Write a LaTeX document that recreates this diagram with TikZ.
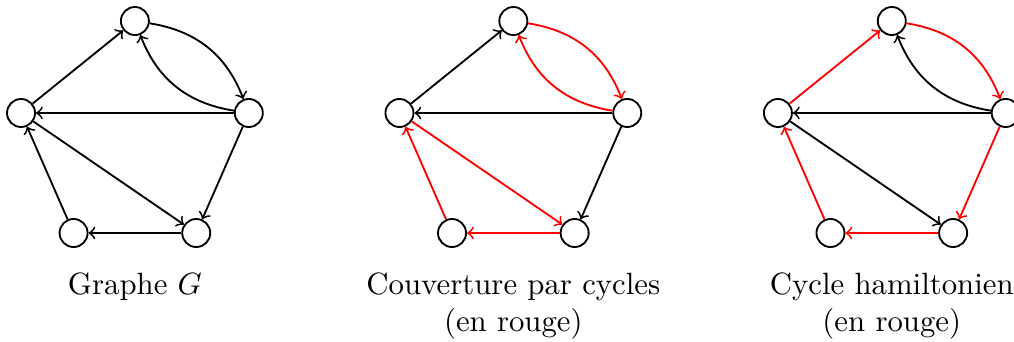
\documentclass[tikz,border=0pt]{standalone}
\begin{document}
\begin{tikzpicture}[semithick, >=to]
  \tikzstyle{s} = [draw, shape=circle, anchor=center, minimum size=.32cm, inner sep=0pt]
  \tikzstyle{legende} = [anchor=north, align=center]
  \useasboundingbox (0,0) rectangle (11.575,-3.904);

  % Graphe G
  \node[s] (h1) at (1.54,-0.24) {};
  \node[s] (g1) at (0.24,-1.29) {};
  \node[s] (d1) at (2.84,-1.29) {};
  \node[s] (bg1) at (0.84,-2.66) {};
  \node[s] (bd1) at (2.24,-2.66) {};
  \node[legende] (l1) at (1.54,-2.985) {Graphe $G$};

  \draw[->] (g1) -- (h1);
  \draw[->] (h1) to[bend left=30] (d1);
  \draw[->] (d1) to[bend left=30] (h1);
  \draw[->] (d1) -- (g1);
  \draw[->] (d1) -- (bd1);
  \draw[->] (g1) -- (bd1);
  \draw[->] (bd1) -- (bg1);
  \draw[->] (bg1) -- (g1);

  % Couverture par cycles
  \node[s] (h2) at (5.86,-0.24) {};
  \node[s] (g2) at (4.56,-1.29) {};
  \node[s] (d2) at (7.16,-1.29) {};
  \node[s] (bg2) at (5.16,-2.66) {};
  \node[s] (bd2) at (6.56,-2.66) {};
  \node[legende] (l2) at (5.86,-2.985) {Couverture par cycles\\(en rouge)};

  \draw[->] (g2) -- (h2);
  \draw[->, red] (h2) to[bend left=30] (d2);
  \draw[->, red] (d2) to[bend left=30] (h2);
  \draw[->] (d2) -- (g2);
  \draw[->] (d2) -- (bd2);
  \draw[->, red] (g2) -- (bd2);
  \draw[->, red] (bd2) -- (bg2);
  \draw[->, red] (bg2) -- (g2);

  % Cycle hamiltonien
  \node[s] (h3) at (10.18,-0.24) {};
  \node[s] (g3) at (8.88,-1.29) {};
  \node[s] (d3) at (11.48,-1.29) {};
  \node[s] (bg3) at (9.48,-2.66) {};
  \node[s] (bd3) at (10.88,-2.66) {};
  \node[legende] (l3) at (10.18,-2.985) {Cycle hamiltonien\\(en rouge)};

  \draw[->, red] (g3) -- (h3);
  \draw[->, red] (h3) to[bend left=30] (d3);
  \draw[->] (d3) to[bend left=30] (h3);
  \draw[->] (d3) -- (g3);
  \draw[->, red] (d3) -- (bd3);
  \draw[->] (g3) -- (bd3);
  \draw[->, red] (bd3) -- (bg3);
  \draw[->, red] (bg3) -- (g3);
\end{tikzpicture}
\end{document}
